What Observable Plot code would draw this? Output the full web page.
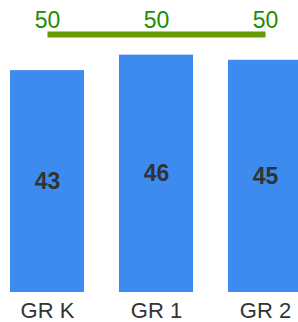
<!DOCTYPE html>
<html>
<head>
<meta charset="utf-8">
<script src="https://cdn.jsdelivr.net/npm/d3@7"></script>
<script src="https://cdn.jsdelivr.net/npm/@observablehq/plot@0.6"></script>
<style>
  html, body { margin: 0; padding: 0; background: white; overflow: hidden; }
  #chart { width: 298px; height: 322px; }
</style>
</head>
<body>
<div id="chart"></div>
<script>
const categories = ["GR K", "GR 1", "GR 2"];
const values = [43, 46, 45];
const targets = [50, 50, 50];

const bars = categories.map((c, i) => ({cat: c, value: values[i]}));
const goal = categories.map((c, i) => ({cat: c, target: targets[i]}));

const chart = Plot.plot({
  width: 298,
  height: 322,
  marginTop: 30,
  marginBottom: 30,
  marginLeft: 0,
  marginRight: 0,
  style: {fontFamily: "'Liberation Sans', Arial, sans-serif", background: "white"},
  x: {type: "band", domain: categories, range: [0, 311], paddingInner: 0.324, paddingOuter: 0.082},
  y: {domain: [0, 50], range: [292, 34], axis: null},
  marks: [
    Plot.barY(bars, {x: "cat", y: "value", fill: "#3d8bee"}),
    Plot.text(bars, {x: "cat", y: d => d.value / 2, text: d => String(d.value), fill: "#333333", fontSize: 23, fontWeight: "bold", lineAnchor: "middle"}),
    Plot.lineY(goal, {x: "cat", y: "target", stroke: "#669a00", strokeWidth: 6, strokeLinecap: "butt"}),
    Plot.text(goal, {x: "cat", y: "target", text: d => String(d.target), fill: "#228c00", fontSize: 23, lineAnchor: "bottom", dy: -7}),
    Plot.axisX({tickSize: 0, tickPadding: 10, fontSize: 22, color: "#333333", label: null})
  ]
});
document.getElementById("chart").appendChild(chart);
</script>
</body>
</html>
